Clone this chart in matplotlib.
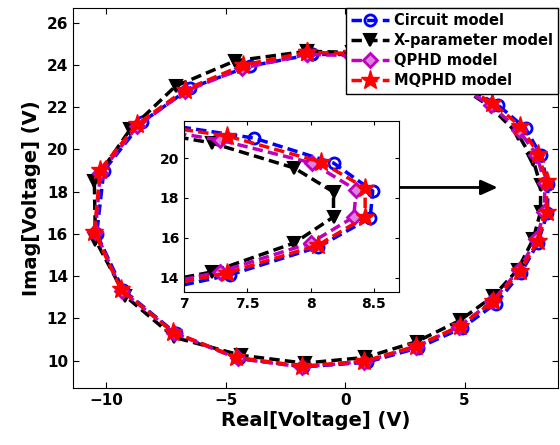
import matplotlib
matplotlib.use("Agg")
import matplotlib.pyplot as plt

# ---- data ----
circ_x = [-1.4, -4.0, -6.5, -8.5, -10.1, -10.4, -9.3, -7.1, -4.45, -1.75, 0.9, 3.05, 4.9, 6.3, 7.36, 8.06, 8.47, 8.49, 8.18, 7.55, 6.4, 4.7, 2.6, 0.5]
circ_y = [24.5, 23.95, 22.9, 21.3, 19.0, 16.0, 13.35, 11.3, 10.1, 9.7, 9.92, 10.6, 11.55, 12.7, 14.15, 15.55, 17.0, 18.35, 19.75, 21.0, 22.1, 23.2, 24.0, 24.5]

xpar_x = [-1.6, -4.6, -7.1, -9.0, -10.5, -10.45, -9.2, -7.15, -4.35, -1.7, 0.85, 3.0, 4.8, 6.2, 7.22, 7.87, 8.18, 8.18, 7.87, 7.22, 6.1, 4.4, 2.3, 0.3]
xpar_y = [24.65, 24.2, 23.0, 20.95, 18.5, 15.7, 13.05, 11.1, 10.25, 9.88, 10.15, 10.9, 11.9, 13.05, 14.3, 15.75, 17.05, 18.3, 19.5, 20.75, 22.0, 23.3, 24.2, 24.6]

qphd_x = [-1.6, -4.3, -6.7, -8.7, -10.25, -10.45, -9.35, -7.15, -4.5, -1.8, 0.8, 2.95, 4.75, 6.15, 7.28, 8.0, 8.34, 8.36, 8.01, 7.28, 6.1, 4.45, 2.35, 0.25]
qphd_y = [24.5, 23.85, 22.75, 21.1, 18.9, 16.1, 13.3, 11.3, 10.1, 9.7, 9.95, 10.65, 11.6, 12.8, 14.3, 15.75, 17.05, 18.4, 19.75, 20.9, 22.1, 23.2, 24.0, 24.45]

mqphd_x = [-1.6, -4.26, -6.7, -8.7, -10.25, -10.5, -9.4, -7.2, -4.55, -1.8, 0.8, 2.95, 4.8, 6.2, 7.34, 8.06, 8.43, 8.43, 8.08, 7.34, 6.16, 4.5, 2.4, 0.3]
mqphd_y = [24.6, 24.0, 22.83, 21.2, 19.05, 16.1, 13.4, 11.35, 10.15, 9.74, 9.97, 10.68, 11.63, 12.8, 14.25, 15.65, 17.05, 18.5, 19.8, 21.1, 22.2, 23.3, 24.1, 24.55]

labels = ["Circuit model", "X-parameter model", "QPHD model", "MQPHD model"]
main_xticks = [-10, -5, 0, 5]
main_yticks = [10, 12, 14, 16, 18, 20, 22, 24, 26]
inset_xticks = [7, 7.5, 8, 8.5]
inset_yticks = [14, 16, 18, 20]

def closed(a):
    return list(a) + [a[0]]

styles = [
    dict(color="#0000ff", marker="o", mfc="none", mec="#0000ff", ms=8, mew=2),
    dict(color="black", marker="v", mfc="black", mec="black", ms=9, mew=1.5),
    dict(color="#c000c0", marker="D", mfc="#e080e0", mec="#c000c0", ms=7, mew=2),
    dict(color="#ff0000", marker="*", mfc="#ff0000", mec="#ff0000", ms=14, mew=1),
]
series = [(circ_x, circ_y), (xpar_x, xpar_y), (qphd_x, qphd_y), (mqphd_x, mqphd_y)]

fig = plt.figure(figsize=(5.6, 4.45), dpi=100)
ax = fig.add_axes([0.130, 0.128, 0.866, 0.854])

for (sx, sy), st, lab in zip(series, styles, labels):
    ax.plot(closed(sx), closed(sy), linestyle=(0, (3, 1.5)), lw=2.5, label=lab, **st)

ax.set_xlim(-11.4, 8.9)
ax.set_ylim(8.7, 26.7)
ax.set_xticks(main_xticks)
ax.set_yticks(main_yticks)
ax.tick_params(direction="in", top=True, right=True, labelsize=11, length=4)
for t in ax.get_xticklabels() + ax.get_yticklabels():
    t.set_fontweight("bold")
ax.set_xlabel("Real[Voltage] (V)", fontsize=14, fontweight="bold", labelpad=2)
ax.set_ylabel("Imag[Voltage] (V)", fontsize=14, fontweight="bold", labelpad=4)

leg = ax.legend(loc="upper right", borderaxespad=0, handlelength=2.6,
                handletextpad=0.3, labelspacing=0.35, borderpad=0.35, fancybox=False,
                framealpha=1.0, prop=dict(weight="bold", size=10.5))
leg.get_frame().set_edgecolor("black")
leg.get_frame().set_linewidth(1.0)

ax.annotate("", xy=(6.5, 18.2), xytext=(1.9, 18.2),
            arrowprops=dict(arrowstyle="-|>,head_length=1.0,head_width=0.45", color="black", lw=2))

ins = fig.add_axes([0.329, 0.344, 0.384, 0.384])
for (sx, sy), st in zip(series, styles):
    ins.plot(closed(sx), closed(sy), linestyle=(0, (3, 1.5)), lw=2.5, **st)
ins.set_xlim(7, 8.7)
ins.set_ylim(13.3, 21.85)
ins.set_xticks(inset_xticks)
ins.set_xticklabels(["7", "7.5", "8", "8.5"])
ins.set_yticks(inset_yticks)
ins.tick_params(direction="in", top=True, right=True, labelsize=10, length=3)
for t in ins.get_xticklabels() + ins.get_yticklabels():
    t.set_fontweight("bold")

fig.savefig("out.png", dpi=100)
